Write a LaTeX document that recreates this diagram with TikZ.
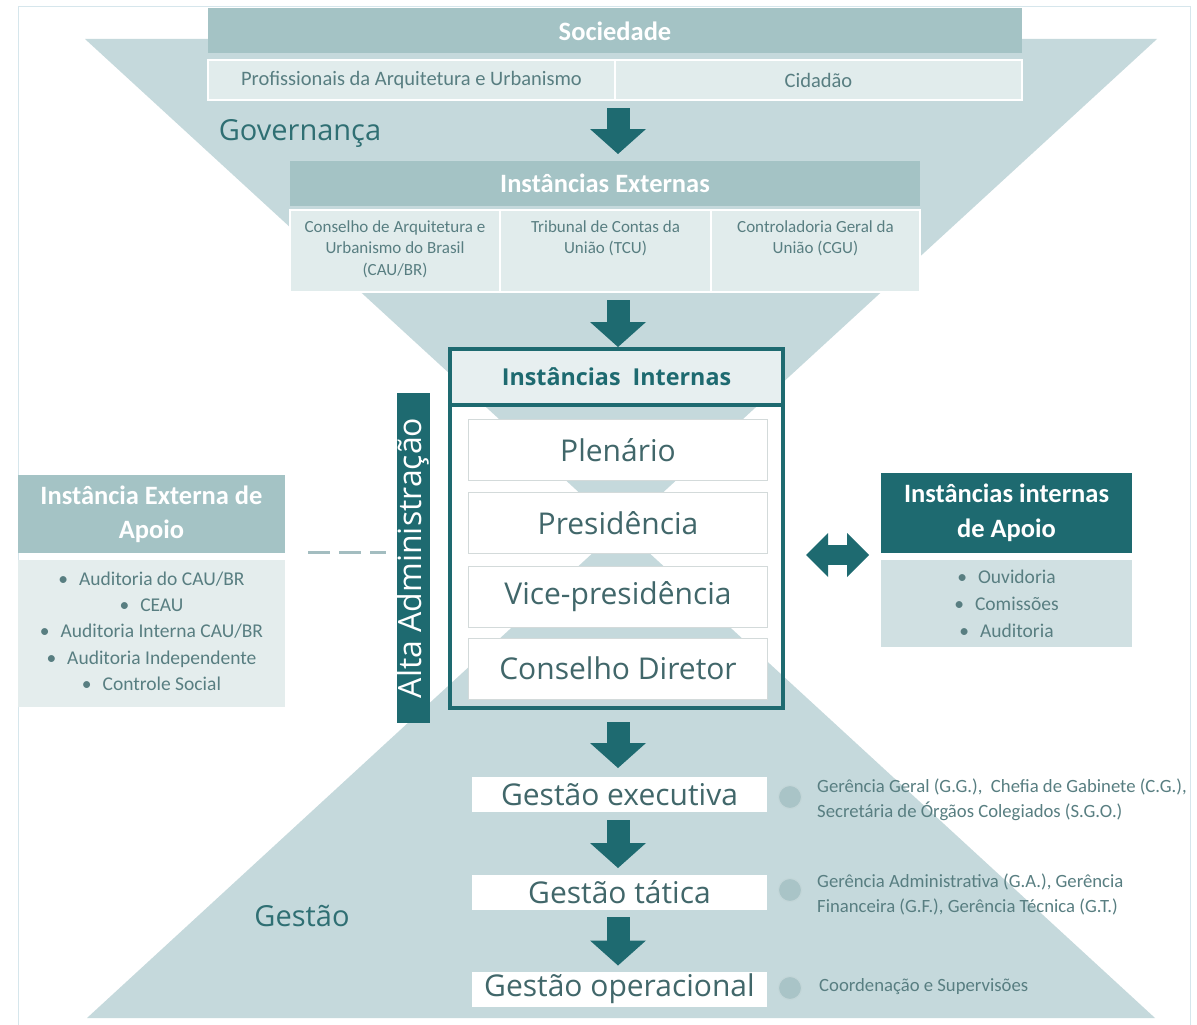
\documentclass[tikz,border=0pt]{standalone}
\usepackage{fontspec}
\setmainfont{Carlito}
\newfontfamily\os{Open Sans}
\usetikzlibrary{arrows.meta,calc}

\definecolor{funnel}{HTML}{C5D9DC}
\definecolor{hdr}{HTML}{A4C3C5}
\definecolor{cell}{HTML}{E1ECEC}
\definecolor{lbody}{HTML}{E4EDED}
\definecolor{teal}{HTML}{1E6A70}
\definecolor{rbody}{HTML}{D0E0E2}
\definecolor{celltxt}{HTML}{587E81}
\definecolor{bigtxt}{HTML}{41676A}
\definecolor{labtxt}{HTML}{2F6F73}
\definecolor{framecol}{HTML}{D6E6EC}
\definecolor{subline}{HTML}{D3DADA}
\definecolor{intbg}{HTML}{E7EFF0}
\definecolor{dotcol}{HTML}{A9C4C7}
\definecolor{dashcol}{HTML}{A3BDC0}

\newcommand\fsz[2]{\fontsize{#1}{#2}\selectfont}

\begin{document}
\begin{tikzpicture}[x=1pt,y=-1pt,
  box/.style={draw=none, inner sep=0pt, outer sep=0pt, align=center},
  hdrbox/.style={box, fill=hdr, text=white, font=\bfseries\fsz{26.5}{34}},
  cellbox/.style={box, fill=cell, draw=white, line width=1.2pt},
  coltxt/.style={align=center, text=celltxt, font=\fsz{17}{21.5}, inner sep=0pt},
  subbox/.style={box, fill=white, draw=subline, line width=1pt, text=bigtxt, font=\os\fsz{30}{34}, minimum width=299pt, minimum height=61pt},
  gbox/.style={box, fill=white, text=bigtxt, font=\os\fsz{30}{34}, minimum width=295pt, minimum height=35pt},
  darr/.style={line width=23pt, color=teal, -{Triangle[length=25pt,width=56pt,line width=0pt]}},
  gdot/.style={circle, fill=dotcol, draw=dotcol!70!white, line width=1pt, minimum size=23pt, inner sep=0pt},
  rtext/.style={anchor=west, align=left, text=celltxt, font=\fsz{18.7}{25}, inner sep=0pt},
  bigl/.style={font=\os\fsz{29}{34}, text=labtxt, inner sep=0pt},
  bul/.style={align=center, text=celltxt, font=\fsz{19.5}{26.3}, inner sep=0pt},
]
\useasboundingbox (0,0) rectangle (1197,1025);
\fill[white] (0,0) rectangle (1197,1025);
\draw[framecol, line width=1pt] (18,1025) -- (18,7) -- (1190,7) -- (1190,1025);

% hourglass
\fill[funnel] (85,39) -- (1157,39) -- (621,531) -- cycle;
\fill[funnel] (87,1018) -- (1155,1018) -- (621,527) -- cycle;

% Sociedade
\node[hdrbox, minimum width=814pt, minimum height=45pt] (soc) at (615,31) {Sociedade};
\node[cellbox, minimum width=407pt, minimum height=40pt, text=celltxt, font=\fsz{20.5}{24}] (prof) at (411.5,80) {Profissionais da Arquitetura e Urbanismo};
\node[cellbox, minimum width=407pt, minimum height=40pt, text=celltxt, font=\fsz{20.5}{24}] (cid) at (818.5,80) {Cidadão};

\node[bigl] (gov) at (300,133) {Governança};

% Instancias Externas
\node[hdrbox, minimum width=630pt, minimum height=45pt] (ext) at (605,183.5) {Instâncias Externas};
\node[cellbox, minimum width=210pt, minimum height=82pt] (c1) at (395,251) {};
\node[cellbox, minimum width=211pt, minimum height=82pt] (c2) at (605.5,251) {};
\node[cellbox, minimum width=209pt, minimum height=82pt] (c3) at (815.5,251) {};
\node[coltxt, anchor=north] (c1t) at (395,220) {Conselho de Arquitetura e\\Urbanismo do Brasil\\(CAU/BR)};
\node[coltxt, anchor=north] (c2t) at (605.5,220) {Tribunal de Contas da\\União (TCU)};
\node[coltxt, anchor=north] (c3t) at (815.5,220) {Controladoria Geral da\\União (CGU)};

% Instancias Internas
\node[box, fill=intbg, draw=teal, line width=3.5pt, minimum width=333pt, minimum height=56pt, font=\os\bfseries\fsz{23.3}{28}, text=teal] (inthdr) at (616.5,377) {Instâncias\ \ Internas};
\node[box, draw=teal, line width=3.5pt, minimum width=333pt, minimum height=303pt, anchor=north] (intbody) at (inthdr.south) {};
\node[subbox] (plen) at (618,450) {Plenário};
\node[subbox] (pres) at (618,523) {Presidência};
\node[subbox] (vice) at (618,596.5) {Vice-presidência};
\node[subbox] (cons) at (618,668.5) {Conselho Diretor};

% Alta Administracao
\node[box, fill=teal, minimum width=330pt, minimum height=33pt, rotate=90, text=white, font=\os\fsz{32}{34}] (alta) at (413.5,558) {Alta Administração};

% left box
\node[hdrbox, minimum width=267pt, minimum height=78pt] (lhdr) at (151.5,514) {Instância Externa de\\Apoio};
\node[box, fill=lbody, minimum width=267pt, minimum height=147pt] (lbod) at (151.5,633.5) {};
\node[bul] (lbt) at (151.5,631) {•\hspace{11pt}Auditoria do CAU/BR\\•\hspace{11pt}CEAU\\•\hspace{11pt}Auditoria Interna CAU/BR\\•\hspace{11pt}Auditoria Independente\\•\hspace{11pt}Controle Social};
\coordinate (dl1) at (308,552);
\coordinate (dl2) at (386,552);
\draw[dashcol, line width=3pt, dash pattern=on 22pt off 9pt] (dl1) -- (dl2);

% right box
\node[box, fill=teal, text=white, font=\bfseries\fsz{26.5}{35}, minimum width=251pt, minimum height=80pt] (rhdr) at (1006.5,513) {Instâncias internas\\de Apoio};
\node[box, fill=rbody, minimum width=251pt, minimum height=87pt] (rbod) at (1006.5,603.5) {};
\node[bul, font=\fsz{19.5}{26.8}] (rbt) at (1006.5,604) {•\hspace{11pt}Ouvidoria\\•\hspace{11pt}Comissões\\•\hspace{11pt}Auditoria};
\coordinate (da1) at (806,555);
\coordinate (da2) at (869,555);
\draw[line width=20pt, teal, {Triangle[length=22pt,width=44pt,line width=0pt]}-{Triangle[length=22pt,width=44pt,line width=0pt]}] (da1) -- (da2);

% Gestao
\node[gbox] (gexec) at (619.5,794.5) {Gestão executiva};
\node[gbox] (gtat) at (619.5,892.5) {Gestão tática};
\node[gbox] (gop) at (619.5,989) {Gestão operacional};
\node[bigl] (gest) at (302,916) {Gestão};

\node[gdot] (d1) at (790,797) {};
\node[gdot] (d2) at (790,890) {};
\node[gdot] (d3) at (790,988) {};
\node[rtext] (t1) at (817,800) {Gerência Geral (G.G.),\ \ Chefia de Gabinete (C.G.),\\Secretária de Órgãos Colegiados (S.G.O.)};
\node[rtext] (t2) at (817,894.5) {Gerência Administrativa (G.A.), Gerência\\Financeira (G.F.), Gerência Técnica (G.T.)};
\node[rtext] (t3) at (819,987) {Coordenação e Supervisões};

% arrows
\coordinate (ax) at (618,0);
\draw[darr] ($(ax |- prof.south)+(0,8)$) -- ($(ax |- ext.north)+(0,-7)$);
\draw[darr] ($(ax |- c1.south)+(0,8)$) -- ($(ax |- inthdr.north)+(0,-2)$);
\draw[darr] ($(ax |- intbody.south)+(0,14)$) -- ($(ax |- gexec.north)+(0,-9)$);
\draw[darr] ($(ax |- gexec.south)+(0,8)$) -- ($(ax |- gtat.north)+(0,-7)$);
\draw[darr] ($(ax |- gtat.south)+(0,7)$) -- ($(ax |- gop.north)+(0,-6)$);
\end{tikzpicture}
\end{document}
